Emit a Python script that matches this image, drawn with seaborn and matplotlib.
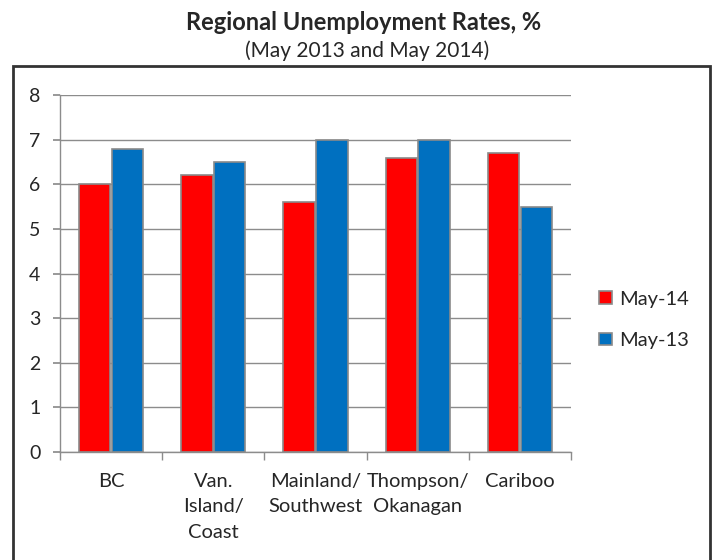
import pandas as pd
import matplotlib.pyplot as plt
import seaborn as sns
from matplotlib.patches import Rectangle
from matplotlib.ticker import FixedLocator

# Data
regions = ["BC", "Van.\nIsland/\nCoast", "Mainland/\nSouthwest", "Thompson/\nOkanagan", "Cariboo"]
may_14 = [6.0, 6.2, 5.6, 6.6, 6.7]
may_13 = [6.8, 6.5, 7.0, 7.0, 5.5]
series = ["May-14", "May-13"]
colors = ["#FF0000", "#0070C0"]

df = pd.DataFrame({
    "region": regions * 2,
    "rate": may_14 + may_13,
    "period": [series[0]] * len(regions) + [series[1]] * len(regions),
})

sns.set_theme(style="white")
plt.rcParams['font.family'] = ['Lato', 'DejaVu Sans']

fig = plt.figure(figsize=(7.13, 5.6), dpi=100)
ax = fig.add_axes([0.084, 0.193, 0.717, 0.637])

sns.barplot(data=df, x="region", y="rate", hue="period", hue_order=series,
            palette=colors, order=regions, width=0.64, gap=0.04,
            edgecolor="#8a8a8a", linewidth=1.2, saturation=1, ax=ax)

ax.set_ylim(0, 8)
ax.set_xlim(-0.5, len(regions) - 0.5)
ax.set_yticks(range(0, 9))
ax.yaxis.grid(True, color="#8c8c8c", linewidth=1)
ax.set_axisbelow(True)
ax.set_xlabel("")
ax.set_ylabel("")

for side in ["top", "right"]:
    ax.spines[side].set_visible(False)
for side in ["left", "bottom"]:
    ax.spines[side].set_color("#8c8c8c")
    ax.spines[side].set_linewidth(1)

ax.tick_params(axis="y", left=True, length=5, color="#8c8c8c", labelsize=14, pad=9)
ax.tick_params(axis="x", which="major", length=0, labelsize=14.5, pad=15)
ax.xaxis.set_minor_locator(FixedLocator([i - 0.5 for i in range(len(regions) + 1)]))
ax.tick_params(axis="x", which="minor", bottom=True, length=6, color="#8c8c8c")
for lbl in ax.get_xticklabels():
    lbl.set_linespacing(1.6)
    lbl.set_va("top")

ax.legend(loc="center left", bbox_to_anchor=(1.02, 0.37), frameon=False,
          fontsize=14.5, handlelength=0.6, handleheight=0.6, handletextpad=0.4,
          labelspacing=1.2)

fig.text(0.51, 0.96, "Regional Unemployment Rates, %", ha="center", va="center",
         fontsize=17, fontweight="bold")
fig.text(0.515, 0.91, "(May 2013 and May 2014)", ha="center", va="center", fontsize=15)

fig.add_artist(Rectangle((0.018, -0.02), 0.978, 0.902, transform=fig.transFigure,
                         fill=False, edgecolor="#333333", linewidth=2))

fig.savefig("out.png", dpi=100)
